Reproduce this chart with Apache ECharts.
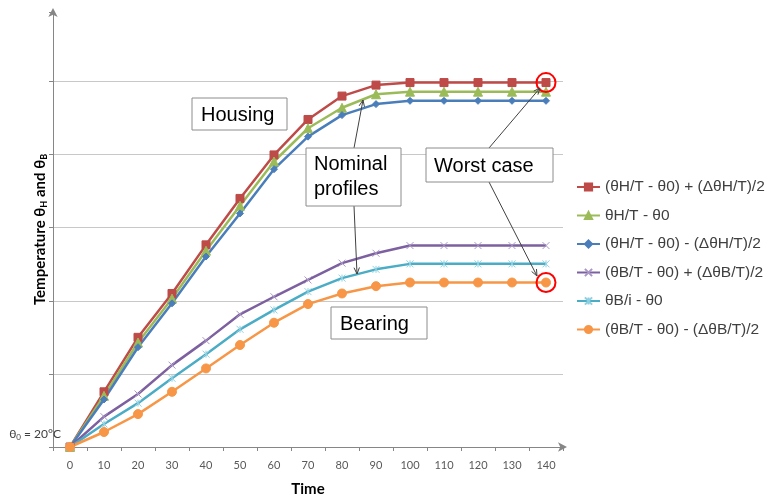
<!DOCTYPE html>
<html><head><meta charset="utf-8">
<script src="https://cdn.jsdelivr.net/npm/echarts@6/dist/echarts.min.js"></script>
<style>html,body{margin:0;padding:0;background:#fff}#c{width:775px;height:498px}</style>
</head><body><div id="c"></div>
<script>
const categories = ['0','10','20','30','40','50','60','70','80','90','100','110','120','130','140'];
const housingUpper = [0, 15.1, 30.0, 42.0, 55.3, 68.0, 79.9, 89.6, 96.0, 99.0, 99.7, 99.7, 99.7, 99.7, 99.7];
const housingNominal = [0, 14.0, 28.6, 40.6, 53.7, 66.0, 78.1, 87.2, 92.8, 96.5, 97.2, 97.2, 97.2, 97.2, 97.2];
const housingLower = [0, 13.0, 27.3, 39.3, 52.1, 63.9, 76.0, 84.9, 90.8, 93.8, 94.7, 94.7, 94.7, 94.7, 94.7];
const bearingUpper = [0, 8.3, 14.5, 22.4, 29.1, 36.3, 41.1, 45.7, 50.3, 53.0, 55.1, 55.1, 55.1, 55.1, 55.1];
const bearingNominal = [0, 6.3, 12.0, 18.8, 25.4, 32.2, 37.5, 42.5, 46.2, 48.6, 50.1, 50.1, 50.1, 50.1, 50.1];
const bearingLower = [0, 4.1, 9.0, 15.1, 21.5, 27.9, 34.0, 39.1, 42.0, 44.0, 45.0, 45.0, 45.0, 45.0, 45.0];
const seriesNames = ['(θH/T - θ0) + (ΔθH/T)/2','θH/T - θ0','(θH/T - θ0) - (ΔθH/T)/2','(θB/T - θ0) + (ΔθB/T)/2','θB/i - θ0','(θB/T - θ0) - (ΔθB/T)/2'];
const yTicks = {min: 0, max: 119, interval: 20};

const chart = echarts.init(document.getElementById('c'));
const FONT = 'Liberation Sans';
const AX = '#868686';

function mk(name, data, color, symbol, size, extra) {
  return Object.assign({
    type: 'line', name, data, symbol, symbolSize: size,
    lineStyle: {color, width: 2.5},
    itemStyle: {color, borderColor: color, borderWidth: 1},
    emphasis: {disabled: true},
    animation: false, z: 3
  }, extra || {});
}
const circleMark = (val) => ({
  symbol: 'circle', symbolSize: 19, silent: true,
  itemStyle: {color: 'rgba(0,0,0,0)', borderColor: '#FF0000', borderWidth: 2},
  label: {show: false},
  data: [{coord: [categories[14], val]}]
});
const xPath = 'path://M0,0L10,10M10,0L0,10';
const starPath = 'path://M0,0L10,10M10,0L0,10M5,0L5,10';

function arrow(x1, y1, x2, y2) {
  const a = Math.atan2(y2 - y1, x2 - x1), L = 7, w = 0.4;
  return [
    {type: 'line', z: 90, shape: {x1, y1, x2, y2}, style: {stroke: '#404040', lineWidth: 1}},
    {type: 'polyline', z: 90, shape: {points: [[x2 - L * Math.cos(a - w), y2 - L * Math.sin(a - w)], [x2, y2], [x2 - L * Math.cos(a + w), y2 - L * Math.sin(a + w)]]},
     style: {stroke: '#404040', lineWidth: 1, fill: null}}
  ];
}
function box(x, y, w, h, text, tx, ty) {
  return [
    {type: 'rect', z: 95, shape: {x, y, width: w, height: h}, style: {fill: '#fff', stroke: '#8c8c8c', lineWidth: 1}},
    {type: 'text', z: 96, x: tx, y: ty, style: {text, font: '20px "' + FONT + '"', fill: '#000', textVerticalAlign: 'middle', lineHeight: 25}}
  ];
}

chart.setOption({
  animation: false,
  grid: {left: 53, right: 212, top: 12, bottom: 51, containLabel: false, outerBoundsMode: 'none'},
  legend: {
    orient: 'vertical', left: 571, top: 173, itemWidth: 23, itemHeight: 9, itemGap: 10.5,
    textStyle: {fontFamily: FONT, fontSize: 15.5, color: '#404040', lineHeight: 18},
    data: seriesNames
  },
  xAxis: {
    type: 'category', data: categories, boundaryGap: true,
    name: 'Time', nameLocation: 'middle', nameGap: 35, nameMoveOverlap: false,
    nameTextStyle: {fontFamily: 'Lato', fontSize: 15, fontWeight: 'bold', color: '#000'},
    axisLine: {lineStyle: {color: AX, width: 1}, symbol: ['none', 'arrow'], symbolSize: [7, 9], symbolOffset: [0, 4]},
    axisTick: {show: true, length: 4, lineStyle: {color: AX}},
    axisLabel: {margin: 13, fontFamily: 'Lato', fontSize: 11, color: '#595959'},
    splitLine: {show: false}
  },
  yAxis: {
    type: 'value', min: yTicks.min, max: yTicks.max, interval: yTicks.interval,
    name: '{t|Temperature θ}{s|H}{t| and θ}{s|B}', nameLocation: 'middle', nameRotate: 90, nameGap: 4, nameMoveOverlap: false,
    nameTextStyle: {rich: {
      t: {fontFamily: 'Lato', fontSize: 15, fontWeight: 'bold', color: '#000'},
      s: {fontFamily: 'Lato', fontSize: 9, fontWeight: 'bold', color: '#000', padding: [9, 0, 0, 0]}
    }},
    axisLine: {show: true, lineStyle: {color: AX, width: 1}, symbol: ['none', 'arrow'], symbolSize: [7, 9], symbolOffset: [0, 4]},
    axisTick: {show: true, length: 4, lineStyle: {color: AX}},
    axisLabel: {
      show: true, margin: -8, verticalAlign: 'bottom', padding: [0, 0, 6, 0],
      formatter: v => v === 0 ? '{a|θ}{b|0}{a| = 20°C}' : '',
      rich: {
        a: {fontFamily: 'Lato', fontSize: 12, color: '#404040'},
        b: {fontFamily: 'Lato', fontSize: 8, color: '#404040', padding: [6, 0, 0, 0]}
      }
    },
    splitLine: {show: true, showMaxLine: false, lineStyle: {color: '#c8c8c8', width: 1}}
  },
  series: [
    mk(seriesNames[0], housingUpper, '#BE4B48', 'rect', 8, {markPoint: circleMark(housingUpper[14])}),
    mk(seriesNames[1], housingNominal, '#9BBB59', 'triangle', 9),
    mk(seriesNames[2], housingLower, '#4A7EBB', 'diamond', 7),
    mk(seriesNames[3], bearingUpper, '#7D60A0', xPath, 7, {itemStyle: {color: '#a896c4', borderColor: '#a896c4', borderWidth: 1}}),
    mk(seriesNames[4], bearingNominal, '#4BACC6', starPath, 7, {itemStyle: {color: '#8fd0e0', borderColor: '#8fd0e0', borderWidth: 1}}),
    mk(seriesNames[5], bearingLower, '#F79646', 'circle', 9, {markPoint: circleMark(bearingLower[14])})
  ],
  graphic: [].concat(
    arrow(354, 148, 363, 100),
    arrow(354, 206, 357, 274),
    arrow(489, 148, 540, 88),
    arrow(489, 182, 537, 276),
    box(192, 98, 95, 32, 'Housing', 201, 115),
    box(306, 148, 95, 58, 'Nominal\nprofiles', 314, 177),
    box(426, 148, 127, 34, 'Worst case', 434, 166),
    box(331, 307, 96, 32, 'Bearing', 340, 324)
  )
});
</script></body></html>
